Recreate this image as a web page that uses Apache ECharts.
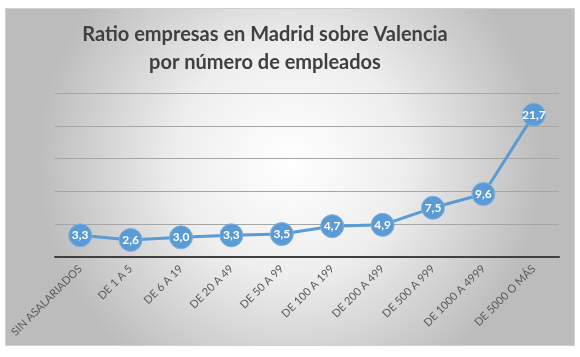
<!DOCTYPE html>
<html>
<head>
<meta charset="utf-8">
<script src="https://cdn.jsdelivr.net/npm/echarts@6/dist/echarts.min.js"></script>
<style>html,body{margin:0;padding:0;background:#fff}#c{width:580px;height:357px}</style>
</head>
<body>
<div id="c"></div>
<script>
const categories = ['SIN ASALARIADOS','DE 1 A 5','DE 6 A 19','DE 20 A 49','DE 50 A 99','DE 100 A 199','DE 200 A 499','DE 500 A 999','DE 1000 A 4999','DE 5000 O MÁS'];
const ratios = [3.3, 2.6, 3.0, 3.3, 3.5, 4.7, 4.9, 7.5, 9.6, 21.7];
const titleLines = ['Ratio empresas en Madrid sobre Valencia', 'por número de empleados'];

const chart = echarts.init(document.getElementById('c'));
chart.setOption({
  animation: false,
  graphic: [{
    type: 'rect', z: -10, silent: true,
    shape: {x: 5.5, y: 8.5, width: 569, height: 337},
    style: {
      fill: new echarts.graphic.RadialGradient(0.5, 0.45, 0.75, [
        {offset: 0, color: '#ffffff'},
        {offset: 0.45, color: '#eeeeee'},
        {offset: 1, color: '#bcbcbc'}
      ]),
      stroke: '#d0d0d0', lineWidth: 1
    }
  }],
  title: {
    text: titleLines.join('\n'),
    left: 260, top: 16, textAlign: 'center',
    textStyle: {fontFamily: 'Lato', fontWeight: 'bold', fontSize: 20, color: '#404040', lineHeight: 28}
  },
  grid: {left: 55, right: 21, top: 93, bottom: 100},
  xAxis: {
    type: 'category', data: categories, boundaryGap: true,
    axisLine: {lineStyle: {color: '#404040', width: 2}},
    axisTick: {show: false},
    axisLabel: {rotate: 45, interval: 0, color: '#595959', fontFamily: 'Lato', fontSize: 11, margin: 10}
  },
  yAxis: {
    type: 'value', min: 0, max: 25, interval: 5,
    axisLabel: {show: false}, axisLine: {show: false}, axisTick: {show: false},
    splitLine: {lineStyle: {color: '#a6a6a6', width: 1}}
  },
  series: [{
    type: 'line', data: ratios,
    symbol: 'circle', symbolSize: 23,
    lineStyle: {color: '#5b9bd5', width: 3},
    itemStyle: {color: '#5b9bd5', borderColor: '#7fb0de', borderWidth: 1},
    label: {
      show: true, position: 'inside', color: '#ffffff', fontFamily: 'Lato', fontWeight: 'bold', fontSize: 12,
      formatter: p => p.value.toFixed(1).replace('.', ',')
    }
  }]
});
</script>
</body>
</html>
